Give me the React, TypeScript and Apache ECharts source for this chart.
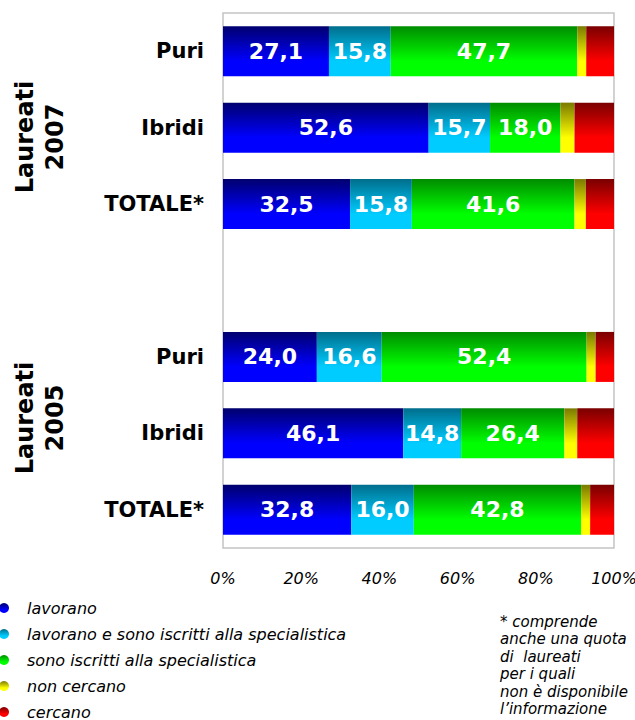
import React, { useEffect, useRef } from "react";
import * as echarts from "echarts";

const categories = ["Puri", "Ibridi", "TOTALE*", "", "Puri", "Ibridi", "TOTALE*"];
const seriesNames = [
  "lavorano",
  "lavorano e sono iscritti alla specialistica",
  "sono iscritti alla specialistica",
  "non cercano",
  "cercano",
];
const lavorano = [27.1, 52.6, 32.5, null, 24.0, 46.1, 32.8];
const lavoranoIscritti = [15.8, 15.7, 15.8, null, 16.6, 14.8, 16.0];
const iscritti = [47.7, 18.0, 41.6, null, 52.4, 26.4, 42.8];
const nonCercano = [2.3, 3.6, 2.9, null, 2.3, 3.3, 2.3];
const cercano = [7.1, 10.1, 7.2, null, 4.7, 9.4, 6.1];
const xTicks = [0, 20, 40, 60, 80, 100];
const groupLabels = ["Laureati\n2007", "Laureati\n2005"];
const footnote = "* comprende\nanche una quota\ndi  laureati\nper i quali\nnon è disponibile\nl’informazione";

const FONT = "DejaVu Sans";

const grad = (top: string, bottom: string) =>
  new echarts.graphic.LinearGradient(0, 0, 0, 1, [
    { offset: 0, color: top },
    { offset: 0.7, color: bottom },
    { offset: 1, color: bottom },
  ]);

export default function App() {
  const ref = useRef<HTMLDivElement>(null);
  useEffect(() => {
    if (!ref.current) return;
    const chart = echarts.init(ref.current, null, { renderer: "svg" });
    const values = [lavorano, lavoranoIscritti, iscritti, nonCercano, cercano];
    const colors = [
      ["#00006e", "#0000ff"],
      ["#006e8c", "#00ccff"],
      ["#008c00", "#00ff00"],
      ["#7a7a00", "#ffff00"],
      ["#7a0000", "#ff0000"],
    ];
    const series = values.map((vals, i) => ({
      name: seriesNames[i],
      type: "bar",
      stack: "total",
      barWidth: 50,
      data: vals.map((v) => (v === null ? "-" : v)),
      itemStyle: { color: grad(colors[i][0], colors[i][1]) },
      label: {
        show: i < 3,
        position: "inside",
        color: "#ffffff",
        fontFamily: FONT,
        fontWeight: "bold",
        fontSize: 22,
        formatter: (p: any) => Number(p.value).toFixed(1).replace(".", ","),
      },
    }));
    chart.setOption({
      animation: false,
      backgroundColor: "#ffffff",
      grid: {
        left: 223,
        top: 13,
        right: 21,
        bottom: 172,
        outerBoundsMode: "none",
        show: true,
        borderColor: "#c4c4c4",
        borderWidth: 1.5,
        backgroundColor: "transparent",
      },
      xAxis: {
        type: "value",
        min: xTicks[0],
        max: xTicks[xTicks.length - 1],
        interval: 20,
        axisLine: { show: false },
        axisTick: { show: false },
        splitLine: { show: false },
        axisLabel: {
          formatter: "{value}%",
          fontFamily: FONT,
          fontStyle: "italic",
          fontSize: 16,
          color: "#000000",
          margin: 22,
        },
      },
      yAxis: {
        type: "category",
        inverse: true,
        data: categories,
        axisLine: { show: false },
        axisTick: { show: false },
        axisLabel: {
          fontFamily: FONT,
          fontWeight: "bold",
          fontSize: 21,
          color: "#000000",
          margin: 19,
        },
      },
      legend: {
        orient: "vertical",
        left: -1,
        top: 599,
        height: 140,
        padding: 0,
        icon: "circle",
        itemWidth: 10,
        itemHeight: 10,
        itemGap: 8,
        selectedMode: false,
        data: seriesNames,
        textStyle: {
          fontFamily: FONT,
          fontStyle: "italic",
          fontSize: 16,
          lineHeight: 18,
          color: "#000000",
          padding: [0, 0, 0, 13],
        },
      },
      graphic: [
        {
          type: "text",
          x: 40,
          y: 137,
          rotation: Math.PI / 2,
          style: {
            text: groupLabels[0],
            fontFamily: FONT,
            fontWeight: "bold",
            fontSize: 24,
            lineHeight: 30,
            fill: "#000000",
            textAlign: "center",
            textVerticalAlign: "middle",
          },
        },
        {
          type: "text",
          x: 40,
          y: 418,
          rotation: Math.PI / 2,
          style: {
            text: groupLabels[1],
            fontFamily: FONT,
            fontWeight: "bold",
            fontSize: 24,
            lineHeight: 30,
            fill: "#000000",
            textAlign: "center",
            textVerticalAlign: "middle",
          },
        },
        {
          type: "text",
          left: 500,
          top: 613,
          style: {
            text: footnote,
            fontFamily: FONT,
            fontStyle: "italic",
            fontSize: 15,
            lineHeight: 17.5,
            fill: "#000000",
          },
        },
      ],
      series,
    });
    return () => chart.dispose();
  }, []);
  return <div ref={ref} style={{ width: 635, height: 720, position: "absolute", left: 0, top: 0 }} />;
}
